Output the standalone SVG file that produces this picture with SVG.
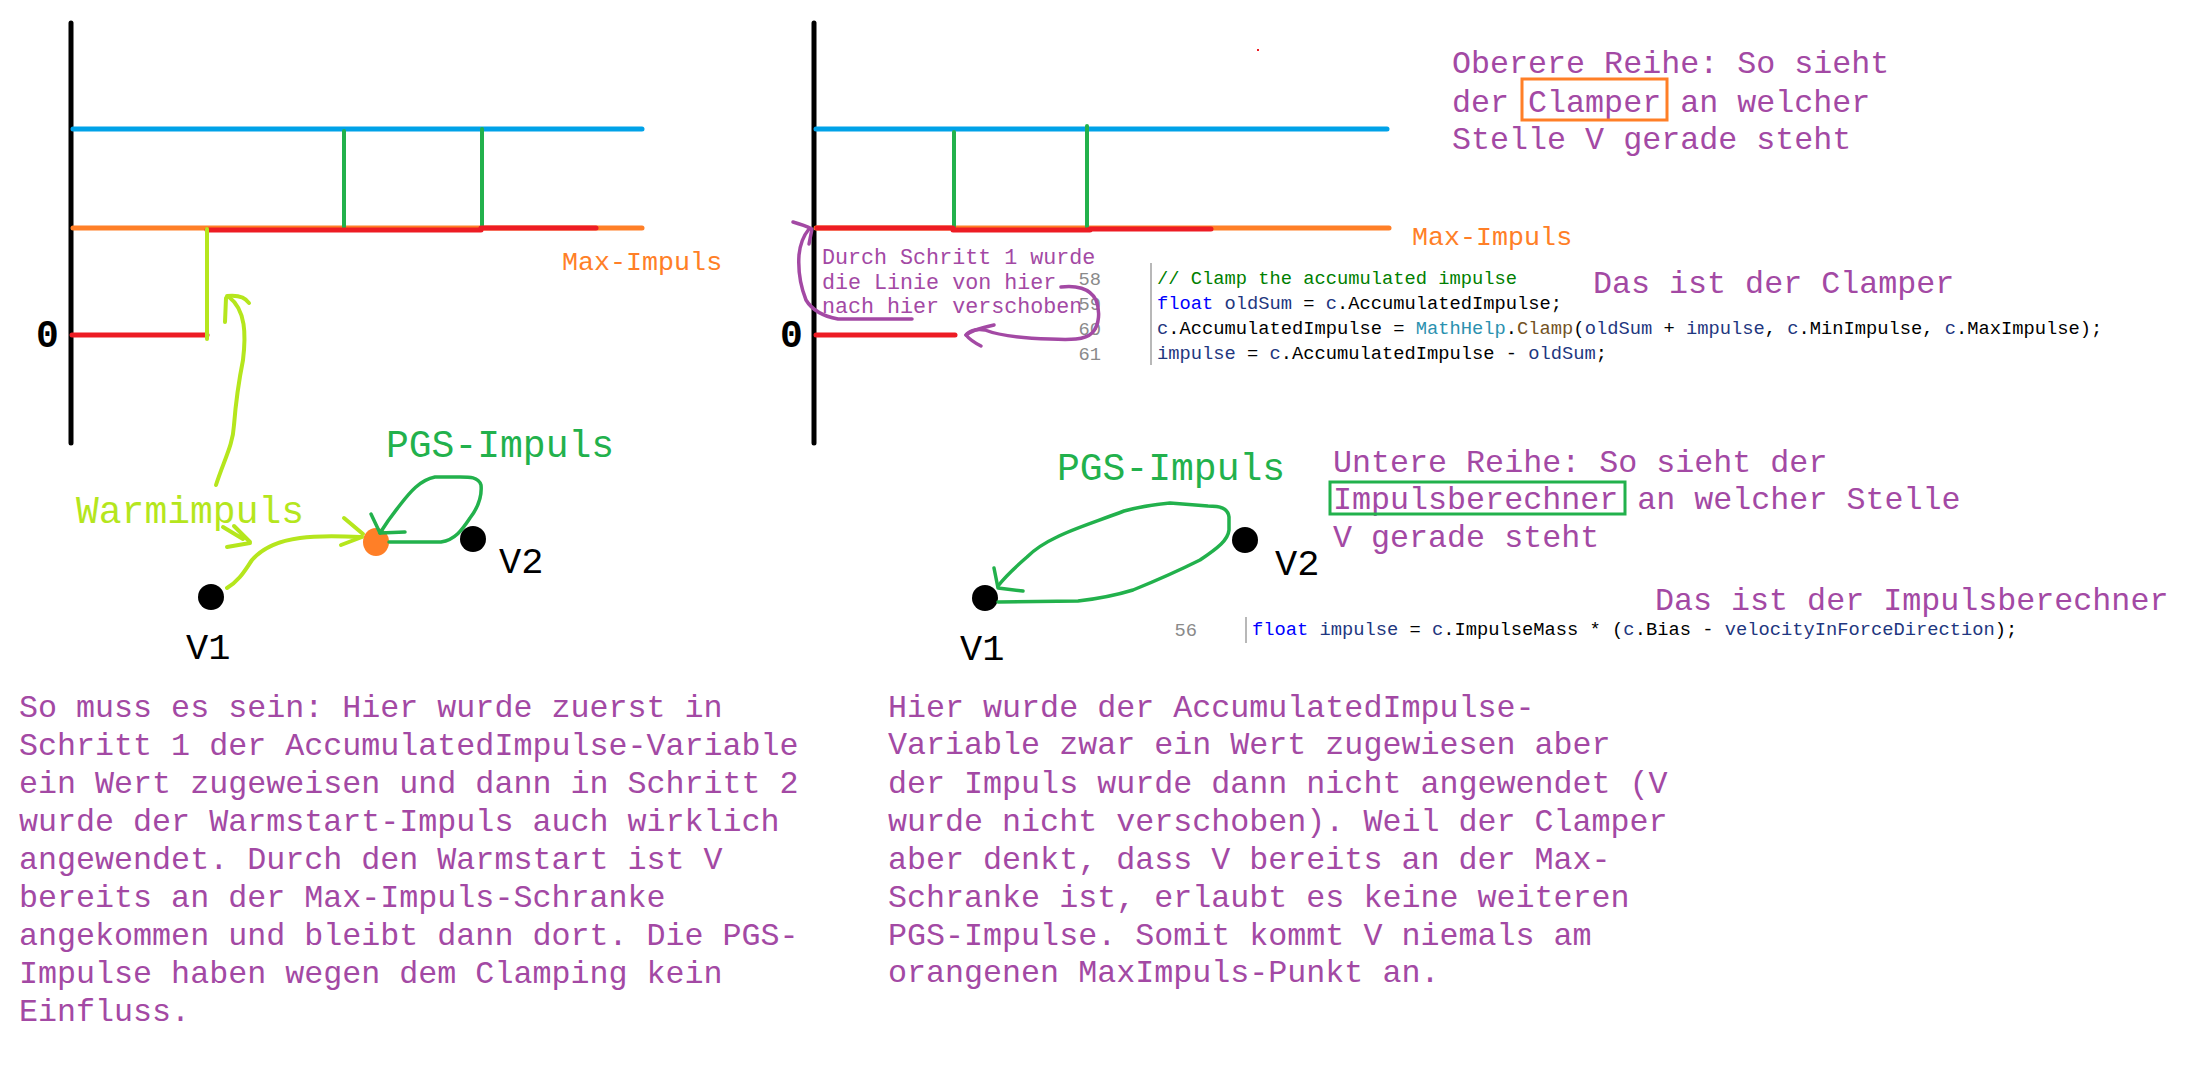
<svg xmlns="http://www.w3.org/2000/svg" width="2194" height="1070" viewBox="0 0 2194 1070">
<style>
.ax{stroke:#000;stroke-width:5;stroke-linecap:round;fill:none}
.bl{stroke:#00A2E8;stroke-width:5;stroke-linecap:round;fill:none}
.or{stroke:#FF7F27;stroke-width:5;stroke-linecap:round;fill:none}
.rd{stroke:#ED1C24;stroke-width:5;stroke-linecap:round;fill:none}
.gv{stroke:#22B14C;stroke-width:4;stroke-linecap:round;fill:none}
.lg{stroke:#B5E61D;stroke-width:4;stroke-linecap:round;stroke-linejoin:round;fill:none}
.gc{stroke:#22B14C;stroke-width:3.5;stroke-linecap:round;stroke-linejoin:round;fill:none}
.pc{stroke:#A349A4;stroke-width:3.5;stroke-linecap:round;stroke-linejoin:round;fill:none}
text{font-family:"Liberation Mono","DejaVu Sans Mono",monospace}
.pu{fill:#A349A4;font-size:31.7px}
.pus{fill:#A349A4;font-size:21.7px}
.mx{fill:#FF7F27;font-size:26.7px}
.pgs{fill:#22B14C;font-size:38px}
.wi{fill:#B5E61D;font-size:38px}
.lbl{fill:#000;font-size:37px}
.zero{fill:#000;font-size:38px;font-weight:bold}
.code{font-size:18.75px;fill:#000}
.ln{font-size:18.75px;fill:#8A8A8A}
.cm{fill:#008000}.kw{fill:#0000FF}.vr{fill:#1F377F}.ty{fill:#2B91AF}.mt{fill:#74531F}
.sep{stroke:#A0A0A0;stroke-width:1.5}
</style>

<g id="panel-top-left">
  <line class="ax" x1="71" y1="23" x2="71" y2="443"/>
  <line class="bl" x1="73" y1="129" x2="642" y2="129"/>
  <line class="or" x1="73" y1="228" x2="642" y2="228"/>
  <line class="gv" x1="344" y1="131" x2="344" y2="228"/>
  <line class="gv" x1="482" y1="129" x2="482" y2="228"/>
  <line class="rd" x1="207" y1="230" x2="481" y2="230"/>
  <line class="rd" x1="481" y1="228" x2="596" y2="228"/>
  <line class="rd" x1="72" y1="335" x2="207" y2="335"/>
  <line class="lg" x1="207" y1="229" x2="207" y2="339"/>
  <text class="zero" x="36" y="347">0</text>
  <text class="mx" x="562" y="270">Max-Impuls</text>
</g>

<g id="panel-top-right">
  <line class="ax" x1="814" y1="23" x2="814" y2="443"/>
  <line class="bl" x1="816" y1="129" x2="1387" y2="129"/>
  <line class="or" x1="816" y1="228" x2="1389" y2="228"/>
  <line class="gv" x1="954" y1="132" x2="954" y2="228"/>
  <line class="gv" x1="1087" y1="126" x2="1087" y2="228"/>
  <line class="rd" x1="817" y1="228" x2="953" y2="228"/>
  <line class="rd" x1="953" y1="230" x2="1090" y2="230"/>
  <line class="rd" x1="1090" y1="229" x2="1211" y2="229"/>
  <line class="rd" x1="816" y1="335" x2="955" y2="335"/>
  <rect x="1257" y="49" width="2" height="2" fill="#ED1C24"/>
  <text class="zero" x="780" y="347">0</text>
  <text class="mx" x="1412" y="245">Max-Impuls</text>
</g>

<g id="note-step1">
  <text class="pus" x="822" y="264">Durch Schritt 1 wurde</text>
  <text class="pus" x="822" y="289">die Linie von hier</text>
  <text class="pus" x="822" y="313">nach hier verschoben</text>
</g>

<g id="code-clamper">
  <text class="ln" x="1101" y="285" text-anchor="end">58</text>
  <text class="ln" x="1101" y="310" text-anchor="end">59</text>
  <text class="ln" x="1101" y="335" text-anchor="end">60</text>
  <text class="ln" x="1101" y="360" text-anchor="end">61</text>
  <line class="sep" x1="1151" y1="263" x2="1151" y2="365"/>
  <text class="code" x="1157" y="284" xml:space="preserve"><tspan class="cm">// Clamp the accumulated impulse</tspan></text>
  <text class="code" x="1157" y="309" xml:space="preserve"><tspan class="kw">float</tspan> <tspan class="vr">oldSum</tspan> = <tspan class="vr">c</tspan>.AccumulatedImpulse;</text>
  <text class="code" x="1157" y="334" xml:space="preserve"><tspan class="vr">c</tspan>.AccumulatedImpulse = <tspan class="ty">MathHelp</tspan>.<tspan class="mt">Clamp</tspan>(<tspan class="vr">oldSum</tspan> + <tspan class="vr">impulse</tspan>, <tspan class="vr">c</tspan>.MinImpulse, <tspan class="vr">c</tspan>.MaxImpulse);</text>
  <text class="code" x="1157" y="359" xml:space="preserve"><tspan class="vr">impulse</tspan> = <tspan class="vr">c</tspan>.AccumulatedImpulse - <tspan class="vr">oldSum</tspan>;</text>
</g>

<g id="note-upper-row">
  <text class="pu" x="1452" y="73">Oberere Reihe: So sieht</text>
  <text class="pu" x="1452" y="112">der Clamper an welcher</text>
  <text class="pu" x="1452" y="149">Stelle V gerade steht</text>
  <rect x="1522" y="79" width="145" height="41" fill="none" stroke="#FF7F27" stroke-width="3"/>
  <text class="pu" x="1593" y="293">Das ist der Clamper</text>
</g>

<g id="panel-bottom-left">
  <text class="pgs" x="386" y="457">PGS-Impuls</text>
  <text class="wi" x="76" y="523">Warmimpuls</text>
  <circle cx="211" cy="597" r="13" fill="#000"/>
  <circle cx="473" cy="539" r="13" fill="#000"/>
  <ellipse cx="376" cy="542" rx="13" ry="14" fill="#FF7F27"/>
  <text class="lbl" x="186" y="659">V1</text>
  <text class="lbl" x="499" y="573">V2</text>
</g>

<g id="panel-bottom-right">
  <text class="pgs" x="1057" y="480">PGS-Impuls</text>
  <circle cx="985" cy="598" r="13" fill="#000"/>
  <circle cx="1245" cy="540" r="13" fill="#000"/>
  <text class="lbl" x="960" y="660">V1</text>
  <text class="lbl" x="1275" y="575">V2</text>
</g>

<g id="note-lower-row">
  <text class="pu" x="1333" y="472">Untere Reihe: So sieht der</text>
  <text class="pu" x="1333" y="509">Impulsberechner an welcher Stelle</text>
  <text class="pu" x="1333" y="547">V gerade steht</text>
  <rect x="1330" y="482" width="295" height="32" fill="none" stroke="#22B14C" stroke-width="3"/>
  <text class="pu" x="1655" y="610">Das ist der Impulsberechner</text>
</g>

<g id="code-impulse">
  <text class="ln" x="1197" y="636" text-anchor="end">56</text>
  <line class="sep" x1="1246" y1="617" x2="1246" y2="643"/>
  <text class="code" x="1252" y="635" xml:space="preserve"><tspan class="kw">float</tspan> <tspan class="vr">impulse</tspan> = <tspan class="vr">c</tspan>.ImpulseMass * (<tspan class="vr">c</tspan>.Bias - <tspan class="vr">velocityInForceDirection</tspan>);</text>
</g>

<g id="text-left">
  <text class="pu" x="19" y="717">So muss es sein: Hier wurde zuerst in</text>
  <text class="pu" x="19" y="755">Schritt 1 der AccumulatedImpulse-Variable</text>
  <text class="pu" x="19" y="793">ein Wert zugeweisen und dann in Schritt 2</text>
  <text class="pu" x="19" y="831">wurde der Warmstart-Impuls auch wirklich</text>
  <text class="pu" x="19" y="869">angewendet. Durch den Warmstart ist V</text>
  <text class="pu" x="19" y="907">bereits an der Max-Impuls-Schranke</text>
  <text class="pu" x="19" y="945">angekommen und bleibt dann dort. Die PGS-</text>
  <text class="pu" x="19" y="983">Impulse haben wegen dem Clamping kein</text>
  <text class="pu" x="19" y="1021">Einfluss.</text>
</g>

<g id="text-right">
  <text class="pu" x="888" y="717">Hier wurde der AccumulatedImpulse-</text>
  <text class="pu" x="888" y="754">Variable zwar ein Wert zugewiesen aber</text>
  <text class="pu" x="888" y="793">der Impuls wurde dann nicht angewendet (V</text>
  <text class="pu" x="888" y="831">wurde nicht verschoben). Weil der Clamper</text>
  <text class="pu" x="888" y="869">aber denkt, dass V bereits an der Max-</text>
  <text class="pu" x="888" y="907">Schranke ist, erlaubt es keine weiteren</text>
  <text class="pu" x="888" y="945">PGS-Impulse. Somit kommt V niemals am</text>
  <text class="pu" x="888" y="982">orangenen MaxImpuls-Punkt an.</text>
</g>

<g id="connectors">
  <path class="lg" d="M216,485 C224,460 233,445 234,425 C236,400 238,385 243,360 C246,335 246,310 229,297"/>
  <path class="lg" d="M225,322 L226,298 M227,296 C236,295 245,297 249,303"/>
  <path class="lg" d="M223,527 L243,539 M234,526 L250,542 M227,547 L250,543"/>
  <path class="lg" d="M227,588 C240,580 245,570 252,560 C265,545 285,540 300,538 C320,535 340,536 361,537"/>
  <path class="lg" d="M344,518 L363,534 M341,545 L362,537"/>
  <path class="gc" d="M389,542 L441,542 C455,540 462,530 470,518 C480,505 482,495 481,485 C478,476 468,477 455,477 L435,477 C420,480 410,492 400,505 C392,515 385,525 380,533"/>
  <path class="gc" d="M371,514 L380,533 L405,532"/>
  <path class="gc" d="M998,602 L1078,601 C1105,598 1120,594 1133,590 C1170,575 1190,565 1200,560 C1218,548 1228,540 1229,530 L1229,517 C1228,508 1220,506 1208,506 L1170,503 C1150,505 1135,508 1124,511 C1095,522 1070,530 1057,537 C1040,545 1032,552 1027,557 C1012,570 1004,578 998,586"/>
  <path class="gc" d="M994,568 L998,588 L1023,591"/>
  <path class="pc" d="M1061,287 C1075,285 1090,288 1096,300 C1100,310 1100,325 1092,333 C1085,340 1070,340 1050,339 C1020,338 1000,336 985,330 C975,328 968,332 966,335"/>
  <path class="pc" d="M994,325 C985,327 972,330 966,335 C970,340 975,343 981,346"/>
  <path class="pc" d="M912,319 L838,319 C822,316 812,310 806,300 C800,285 798,270 799,255 C800,245 804,235 809,229"/>
  <path class="pc" d="M793,222 C800,224 806,226 812,229 L809,244"/>
</g>
</svg>
